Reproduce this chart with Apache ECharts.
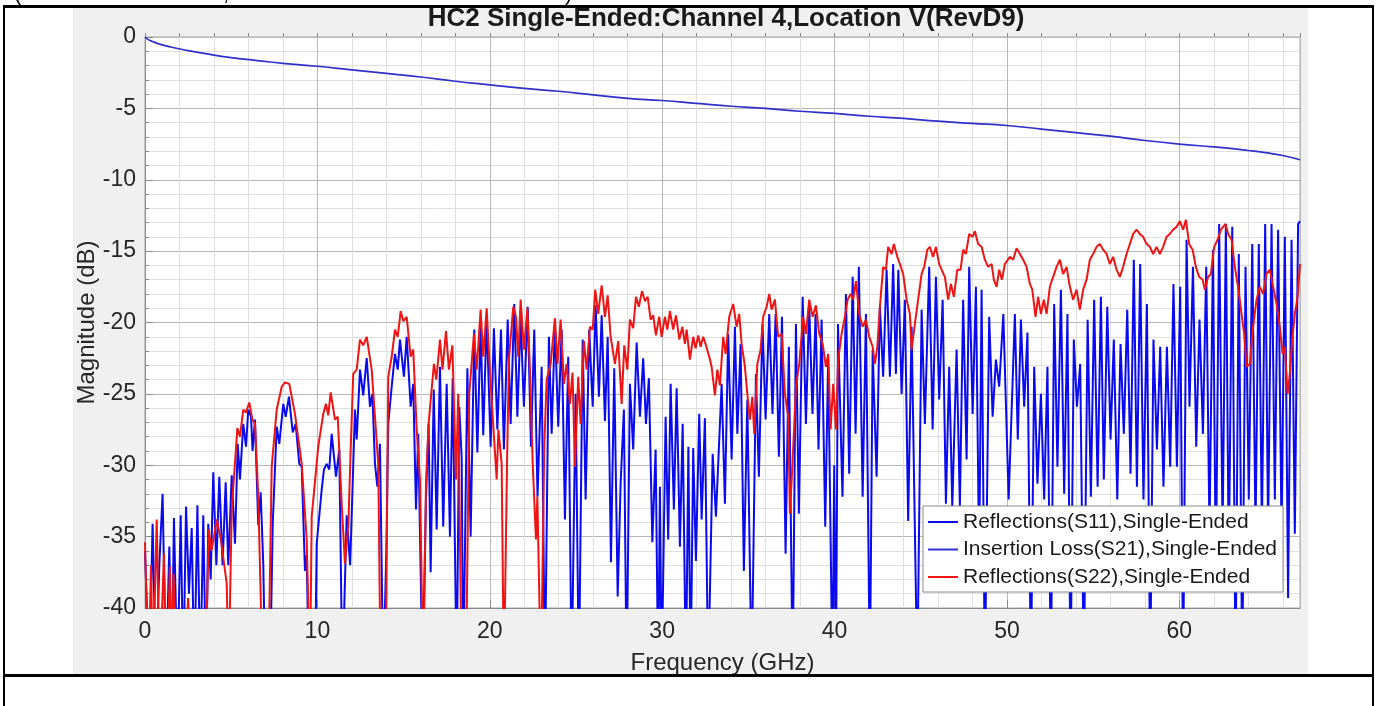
<!DOCTYPE html>
<html>
<head>
<meta charset="utf-8">
<title>HC2 Single-Ended</title>
<script src="https://cdn.jsdelivr.net/npm/echarts@6.0.0/dist/echarts.min.js"></script>
<style>
    html, body { margin: 0; padding: 0; background: #fff; }
    #chart { width: 1377px; height: 706px; }
</style>
</head>
<body>
<div id="chart"></div>
<script>
// 频率 (GHz) / 幅度 (dB) 读自原图
let s11Points = [
    [0, -36], [0.25, -45], [0.44, -34.1], [0.64, -45], [0.83, -37], [1.02, -32.0], [1.22, -45], [1.41, -35.7],
    [1.55, -45], [1.68, -33.7], [1.88, -45], [2.07, -33.5], [2.22, -45], [2.38, -32.9], [2.55, -39], [2.71, -34.4],
    [2.86, -45], [3.04, -32.8], [3.21, -45], [3.38, -33.5], [3.54, -45], [3.67, -34.1], [3.81, -38], [3.96, -30.5],
    [4.14, -37], [4.31, -30.8], [4.5, -37], [4.68, -31.2], [4.83, -37], [5.03, -30.7], [5.22, -35.5], [5.38, -28.5],
    [5.51, -31.0], [5.7, -27.1], [5.86, -28.7], [5.99, -26.1], [6.15, -26.6], [6.24, -29.0], [6.38, -26.8], [6.57, -34.2],
    [6.71, -31.9], [6.86, -36.9], [6.98, -45], [7.25, -45], [7.41, -34.1], [7.64, -27.3], [7.79, -28.5], [8.02, -25.7],
    [8.16, -26.6], [8.35, -25.2], [8.57, -27.7], [8.74, -27.1], [8.95, -29.9], [9.09, -30.1], [9.28, -37.4], [9.38, -36.3],
    [9.51, -45], [9.86, -45], [9.96, -35.5], [10.25, -31.7], [10.38, -30.3], [10.54, -29.9], [10.69, -30.3], [10.83, -27.8],
    [11.08, -30.8], [11.27, -28.9], [11.45, -45], [11.7, -33.5], [11.9, -37], [12.08, -30], [12.18, -26.1], [12.28, -28.2],
    [12.47, -23.3], [12.66, -25.1], [12.86, -22.5], [13.05, -25.9], [13.19, -25.0], [13.34, -29.9], [13.48, -31.5], [13.63, -28.5],
    [13.82, -45], [14.0, -36], [14.11, -27.1], [14.31, -24.5], [14.5, -22.2], [14.66, -23.3], [14.79, -21.2], [15.02, -23.8],
    [15.18, -21.0], [15.41, -25.9], [15.56, -24.3], [15.72, -33.1], [15.85, -27.8], [16.1, -45], [16.3, -32.2], [16.45, -27.1],
    [16.57, -37.5], [16.75, -24.7], [16.92, -34.5], [17.11, -23.1], [17.3, -34.3], [17.5, -24.3], [17.69, -35.0], [17.85, -23.9],
    [18.08, -45], [18.23, -25.9], [18.37, -29.5], [18.46, -45], [18.7, -23.2], [18.89, -35.0], [19.1, -20.5], [19.28, -29.1],
    [19.47, -20.1], [19.62, -27.9], [19.82, -19.7], [20.05, -28.7], [20.24, -20.4], [20.44, -27.5], [20.65, -20.5], [20.82, -28.9],
    [21.04, -19.8], [21.21, -27.1], [21.42, -18.7], [21.6, -26.6], [21.79, -19.7], [21.98, -25.9], [22.2, -18.9], [22.39, -28.7],
    [22.58, -20.5], [22.77, -32.2], [23.01, -23.1], [23.2, -45], [23.43, -21.0], [23.59, -27.8], [23.78, -20.1], [23.97, -27.3],
    [24.17, -20.5], [24.36, -33.8], [24.55, -22.4], [24.75, -45], [24.98, -25.0], [25.17, -45], [25.39, -21.2], [25.56, -32.4],
    [25.77, -20.5], [25.97, -25.9], [26.14, -18.8], [26.33, -25.2], [26.49, -19.5], [26.68, -26.9], [26.84, -21.0], [27.03, -36.8],
    [27.22, -23.2], [27.42, -39.2], [27.59, -31.3], [27.78, -26.1], [27.94, -45], [28.13, -24.3], [28.32, -28.9], [28.52, -21.4],
    [28.71, -26.6], [28.9, -22.5], [29.06, -27.1], [29.23, -23.9], [29.43, -35.4], [29.62, -28.9], [29.77, -45], [29.87, -31.5],
    [29.97, -45], [30.2, -26.6], [30.35, -35.2], [30.49, -24.3], [30.68, -33.1], [30.84, -24.6], [31.03, -35.7], [31.19, -27.1],
    [31.38, -45], [31.52, -28.7], [31.65, -45], [31.8, -28.8], [31.96, -36.7], [32.15, -26.4], [32.29, -33.8], [32.48, -26.7],
    [32.67, -45], [32.93, -29.2], [33.12, -33.6], [33.45, -24.3], [33.64, -32.7], [33.83, -20.8], [34.03, -29.6], [34.22, -20.3],
    [34.36, -27.8], [34.55, -21.5], [34.74, -37.4], [34.94, -25.4], [35.19, -45], [35.44, -23.6], [35.61, -30.8], [35.82, -20.1],
    [36.0, -26.8], [36.21, -19.4], [36.4, -26.4], [36.58, -19.4], [36.77, -29.4], [36.95, -19.6], [37.16, -36.2], [37.35, -21.7],
    [37.57, -45], [37.76, -20.1], [37.93, -33.4], [38.15, -18.2], [38.34, -27.1], [38.53, -18.7], [38.72, -26.4], [38.9, -19.4],
    [39.07, -28.9], [39.25, -19.8], [39.46, -34.3], [39.63, -22.4], [39.88, -45], [39.98, -30], [40.08, -45], [40.2, -20.1],
    [40.46, -32.2], [40.66, -18.0], [40.85, -30.6], [41.05, -16.8], [41.22, -27.8], [41.41, -16.1], [41.63, -32.2], [41.82, -19.4],
    [42.05, -45], [42.21, -21.9], [42.44, -30.8], [42.63, -18.9], [42.82, -23.8], [43.02, -16.3], [43.21, -23.8], [43.4, -15.9],
    [43.56, -23.6], [43.7, -16.3], [43.89, -25.0], [44.08, -18.4], [44.27, -33.9], [44.47, -20.3], [44.8, -45], [45.05, -19.1],
    [45.24, -27.1], [45.49, -16.1], [45.69, -27.5], [45.88, -16.8], [46.07, -25.4], [46.27, -18.4], [46.46, -32.7], [46.65, -23.1],
    [46.83, -32.9], [47.08, -21.9], [47.27, -32.9], [47.46, -18.4], [47.66, -29.6], [47.81, -16.1], [48.01, -26.4], [48.2, -17.5],
    [48.39, -36.9], [48.53, -17.7], [48.72, -45], [48.97, -19.6], [49.17, -26.6], [49.36, -22.6], [49.55, -24.5], [49.79, -19.4],
    [50.1, -32.4], [50.46, -19.4], [50.63, -28.2], [50.81, -19.8], [51.0, -25.9], [51.19, -20.7], [51.39, -45], [51.58, -23.1],
    [51.77, -31.3], [51.97, -25.0], [52.16, -32.4], [52.35, -23.1], [52.55, -45], [52.74, -18.7], [52.93, -30.1], [53.13, -17.7],
    [53.32, -32.0], [53.51, -19.4], [53.69, -45], [53.88, -21.2], [54.06, -25.9], [54.25, -22.9], [54.46, -45], [54.68, -19.8],
    [54.87, -32.2], [55.06, -18.4], [55.26, -31.5], [55.45, -18.2], [55.62, -31.0], [55.82, -18.9], [56.01, -28.2], [56.2, -21.2],
    [56.4, -32.4], [56.59, -21.5], [56.78, -27.8], [56.98, -19.1], [57.17, -30.6], [57.36, -15.6], [57.54, -31.5], [57.73, -15.9],
    [57.92, -32.4], [58.12, -18.7], [58.31, -45], [58.5, -21.2], [58.7, -28.9], [58.89, -21.7], [59.08, -31.5], [59.28, -21.7],
    [59.47, -30.1], [59.66, -17.3], [59.86, -30.1], [60.05, -17.5], [60.22, -45], [60.42, -14.2], [60.59, -25.9], [60.79, -16.1],
    [60.98, -28.7], [61.17, -19.8], [61.37, -27.8], [61.56, -16.1], [61.75, -34.8], [61.95, -14.9], [62.12, -38], [62.31, -13.1],
    [62.51, -34.8], [62.7, -13.1], [62.87, -37.1], [63.07, -13.3], [63.26, -45], [63.45, -15.2], [63.65, -45], [63.84, -16.1],
    [64.03, -32.4], [64.23, -14.5], [64.42, -34.8], [64.61, -14.5], [64.79, -34.8], [64.98, -13.1], [65.15, -34.8], [65.35, -13.1],
    [65.54, -32.4], [65.73, -13.5], [65.93, -34.8], [66.12, -14.0], [66.31, -39.3], [66.51, -14.2], [66.7, -34.8], [66.89, -13.1],
    [67.0, -12.9]
];

let s21Points = [
    [0, 0], [0.15, -0.15], [0.4, -0.3], [0.8, -0.48], [1.5, -0.7], [2.5, -0.95], [3.5, -1.17], [5, -1.45],
    [6.5, -1.65], [8, -1.85], [10, -2.05], [12, -2.3], [14, -2.55], [16, -2.8], [18, -3.1], [20, -3.35],
    [22, -3.6], [24, -3.8], [26, -4.05], [28, -4.3], [30, -4.45], [32, -4.65], [34, -4.85], [36, -5.0],
    [38, -5.2], [40, -5.35], [42, -5.55], [44, -5.7], [46, -5.9], [48, -6.05], [50, -6.2], [52, -6.45],
    [54, -6.7], [56, -6.95], [58, -7.25], [60, -7.5], [62, -7.7], [64, -7.95], [65, -8.1], [66, -8.3],
    [67, -8.6]
];

let s22Points = [
    [0, -35.4], [0.2, -45], [0.35, -37], [0.45, -45], [0.68, -33.8], [0.85, -45], [1.1, -36.2], [1.25, -45],
    [1.45, -37.1], [1.55, -45], [1.65, -37.6], [1.9, -45], [2.3, -45], [2.5, -39.3], [2.7, -45], [3.5, -45],
    [3.7, -34.5], [3.85, -36], [4.0, -35], [4.16, -33.8], [4.4, -35.2], [4.74, -38.3], [4.85, -45], [5.03, -33.1],
    [5.36, -27.4], [5.51, -28.0], [5.7, -26.1], [5.86, -26.3], [6.05, -25.6], [6.23, -26.8], [6.38, -27.1], [6.57, -32.2],
    [6.83, -45], [7.15, -45], [7.35, -30.1], [7.64, -26.1], [7.93, -24.5], [8.12, -24.2], [8.37, -24.3], [8.7, -26.4],
    [9.09, -29.9], [9.38, -35.2], [9.57, -45], [9.67, -33.6], [10.05, -28.7], [10.34, -26.4], [10.5, -25.7], [10.63, -26.5],
    [10.77, -24.9], [11.02, -26.8], [11.18, -26.6], [11.41, -32.7], [11.6, -36.9], [11.8, -34.1], [11.93, -28.9], [12.08, -23.6],
    [12.28, -23.3], [12.47, -21.2], [12.66, -21.6], [12.86, -21.0], [13.15, -23.3], [13.34, -26.6], [13.53, -29.9], [13.67, -45],
    [13.96, -45], [14.11, -23.8], [14.31, -22.4], [14.5, -20.5], [14.66, -21.0], [14.83, -19.2], [14.98, -19.9], [15.18, -19.6],
    [15.41, -22.4], [15.56, -21.9], [15.76, -27.5], [15.95, -31.0], [16.14, -45], [16.3, -31.3], [16.45, -27.1], [16.76, -22.9],
    [16.9, -24.0], [17.11, -21.2], [17.26, -23.3], [17.46, -20.6], [17.63, -23.3], [17.83, -21.6], [18.04, -31.0], [18.17, -25.0],
    [18.37, -45], [18.62, -45], [18.81, -25.0], [19.08, -20.8], [19.24, -23.3], [19.47, -19.1], [19.62, -22.4], [19.82, -19.0],
    [20.05, -24.3], [20.4, -31.0], [20.5, -27.5], [20.69, -29.9], [20.82, -45], [21.0, -30], [21.11, -22.6], [21.36, -18.9],
    [21.52, -19.6], [21.65, -22.4], [21.79, -18.4], [21.98, -21.9], [22.18, -19.0], [22.33, -23.3], [22.49, -29.9], [22.68, -35.2],
    [22.76, -32.2], [22.97, -45], [23.16, -28.7], [23.3, -24.0], [23.53, -22.9], [23.78, -19.7], [23.93, -22.9], [24.11, -19.8],
    [24.3, -24.3], [24.46, -22.9], [24.65, -25.7], [24.8, -23.5], [24.94, -30.1], [25.13, -23.8], [25.27, -27.1], [25.46, -21.3],
    [25.62, -23.3], [25.81, -20.3], [25.97, -20.5], [26.12, -17.7], [26.29, -19.4], [26.49, -17.4], [26.68, -19.6], [26.84, -18.1],
    [27.01, -21.0], [27.26, -22.9], [27.45, -21.3], [27.65, -25.7], [27.8, -21.6], [27.98, -23.3], [28.13, -19.8], [28.32, -20.4],
    [28.48, -18.2], [28.65, -18.9], [28.83, -17.8], [29.0, -18.5], [29.16, -18.2], [29.33, -19.8], [29.48, -19.5], [29.64, -20.9],
    [29.83, -19.6], [29.97, -21.0], [30.16, -19.6], [30.3, -20.5], [30.45, -19.2], [30.64, -20.5], [30.8, -19.5], [31.0, -21.2],
    [31.17, -20.3], [31.32, -21.5], [31.42, -20.5], [31.61, -22.6], [31.8, -21.0], [31.94, -21.8], [32.09, -20.9], [32.23, -21.7],
    [32.38, -21.0], [32.54, -21.6], [32.73, -22.4], [32.87, -23.1], [33.06, -25.1], [33.2, -23.3], [33.35, -24.4], [33.54, -21.0],
    [33.68, -22.2], [33.89, -19.6], [34.12, -18.7], [34.32, -20.3], [34.47, -19.4], [34.61, -21.5], [34.8, -23.1], [34.94, -25.0],
    [35.09, -26.8], [35.23, -25.2], [35.34, -27.8], [35.52, -22.9], [35.71, -21.9], [35.86, -19.6], [36.06, -18.9], [36.21, -18.0],
    [36.35, -19.1], [36.54, -18.4], [36.73, -21.0], [36.93, -20.8], [37.12, -25.0], [37.31, -26.6], [37.41, -33.4], [37.56, -29.9],
    [37.76, -24.5], [37.95, -22.9], [38.18, -19.6], [38.34, -20.8], [38.53, -18.4], [38.73, -19.6], [38.92, -18.8], [39.11, -20.8],
    [39.31, -21.5], [39.5, -23.1], [39.63, -22.2], [39.77, -27.5], [39.92, -24.3], [40.08, -27.5], [40.21, -22.6], [40.41, -20.8],
    [40.6, -19.6], [40.76, -18.4], [40.93, -18.0], [41.08, -18.4], [41.24, -17.1], [41.43, -19.4], [41.63, -20.3], [41.82, -19.8],
    [42.01, -21.0], [42.21, -21.7], [42.34, -22.9], [42.48, -21.7], [42.63, -18.9], [42.82, -16.1], [42.98, -16.3], [43.11, -14.7],
    [43.31, -15.2], [43.44, -14.5], [43.64, -15.4], [43.79, -15.9], [43.98, -16.6], [44.18, -18.4], [44.37, -19.4], [44.47, -21.9],
    [44.66, -20.1], [44.85, -18.4], [45.05, -16.6], [45.2, -16.1], [45.38, -14.9], [45.53, -14.7], [45.72, -15.4], [45.88, -14.7],
    [46.07, -15.9], [46.21, -16.3], [46.4, -16.8], [46.59, -18.4], [46.75, -17.3], [46.92, -18.2], [47.12, -16.3], [47.31, -16.3],
    [47.46, -14.9], [47.62, -15.2], [47.81, -13.8], [48.01, -14.0], [48.14, -13.6], [48.33, -14.5], [48.53, -14.7], [48.72, -15.6],
    [48.91, -16.1], [49.11, -15.9], [49.24, -17.0], [49.4, -17.5], [49.55, -16.3], [49.71, -17.0], [49.88, -15.9], [50.17, -15.4],
    [50.36, -15.6], [50.56, -14.8], [50.75, -15.2], [50.94, -15.6], [51.14, -16.1], [51.33, -17.3], [51.47, -17.7], [51.66, -19.6],
    [51.81, -18.2], [51.97, -19.4], [52.14, -18.4], [52.3, -19.4], [52.49, -17.5], [52.68, -16.8], [52.88, -16.1], [53.07, -15.6],
    [53.26, -16.6], [53.46, -16.1], [53.65, -17.5], [53.84, -18.4], [54.04, -17.7], [54.23, -19.1], [54.42, -17.7], [54.62, -17.0],
    [54.81, -15.6], [55.0, -15.2], [55.2, -14.7], [55.39, -14.5], [55.58, -14.9], [55.78, -15.2], [55.97, -15.9], [56.16, -15.4],
    [56.36, -16.3], [56.55, -16.8], [56.74, -16.1], [56.94, -15.2], [57.13, -14.5], [57.32, -13.8], [57.52, -13.5], [57.71, -13.8],
    [57.9, -14.0], [58.1, -14.5], [58.29, -14.7], [58.48, -15.2], [58.68, -14.7], [58.87, -15.2], [59.06, -14.7], [59.26, -14.0],
    [59.45, -13.8], [59.64, -13.5], [59.84, -13.3], [60.03, -12.9], [60.22, -13.5], [60.38, -12.8], [60.57, -14.5], [60.77, -14.9],
    [60.96, -16.1], [61.15, -16.8], [61.35, -17.0], [61.48, -17.7], [61.67, -16.8], [61.83, -16.6], [62.02, -14.7], [62.22, -14.2],
    [62.41, -13.5], [62.54, -13.3], [62.68, -13.1], [62.83, -13.8], [63.03, -14.2], [63.22, -16.1], [63.41, -17.5], [63.61, -19.4],
    [63.76, -20.8], [63.9, -23.1], [64.09, -22.9], [64.28, -20.3], [64.48, -18.4], [64.67, -17.5], [64.86, -18.0], [65.06, -16.6],
    [65.25, -16.3], [65.44, -17.5], [65.64, -18.7], [65.83, -20.3], [65.99, -22.2], [66.12, -21.7], [66.28, -25.0], [66.41, -23.6],
    [66.55, -21.2], [66.7, -19.4], [66.86, -18.2], [67.0, -15.9]
];

let seriesNames = [
    'Reflections(S11),Single-Ended',
    'Insertion Loss(S21),Single-Ended',
    'Reflections(S22),Single-Ended'
];

let fontFamily = '"Liberation Sans", Arial, sans-serif';
let myChart = echarts.init(document.getElementById('chart'));

let option = {
    animation: false,
    backgroundColor: '#fff',
    title: {
        text: 'HC2 Single-Ended:Channel 4,Location V(RevD9)',
        left: 726,
        top: 6,
        textAlign: 'center',
        padding: 0,
        textStyle: {fontFamily: fontFamily, fontSize: 26, fontWeight: 'bold', color: '#1a1a1a'}
    },
    legend: {
        orient: 'vertical',
        left: 923,
        top: 506,
        padding: [5, 6, 4, 5],
        itemWidth: 30,
        itemHeight: 2,
        itemGap: 5.5,
        backgroundColor: '#fff',
        borderColor: '#8c8c8c',
        borderWidth: 1,
        textStyle: {fontFamily: fontFamily, fontSize: 21, lineHeight: 22, color: '#1a1a1a'},
        data: seriesNames.map(n => ({name: n, icon: 'rect'}))
    },
    grid: {
        left: 145, top: 37, right: 77, bottom: 98,
        outerBoundsMode: 'none',
        containLabel: false,
        show: true,
        backgroundColor: '#fff',
        borderColor: '#a6a6a6',
        borderWidth: 1
    },
    xAxis: [
        {
            // 次网格 每2GHz
            type: 'value', min: 0, max: 67, interval: 2,
            position: 'bottom',
            axisLine: {show: false},
            axisLabel: {show: false},
            axisTick: {inside: true, length: 4, lineStyle: {color: '#8a8a8a'}},
            splitLine: {lineStyle: {color: '#e0e0e0', width: 1}}
        },
        {
            type: 'value', min: 0, max: 67, interval: 10,
            position: 'bottom',
            name: 'Frequency (GHz)',
            nameLocation: 'middle',
            nameGap: 43,
            nameTextStyle: {fontFamily: fontFamily, fontSize: 24, color: '#262626'},
            axisLine: {lineStyle: {color: '#8a8a8a', width: 1}},
            axisTick: {inside: true, length: 8, lineStyle: {color: '#8a8a8a'}},
            axisLabel: {fontFamily: fontFamily, fontSize: 23, color: '#262626', margin: 12, showMaxLabel: false},
            splitLine: {lineStyle: {color: '#b8b8b8', width: 1}}
        }
    ],
    yAxis: {
        type: 'value', min: -40, max: 0, interval: 5,
        name: 'Magnitude (dB)',
        nameLocation: 'middle',
        nameGap: 46,
        nameMoveOverlap: false,
        nameRotate: 90,
        nameTextStyle: {fontFamily: fontFamily, fontSize: 24, color: '#262626'},
        axisLine: {show: true, lineStyle: {color: '#8a8a8a', width: 1}},
        axisTick: {show: true, inside: true, length: 8, lineStyle: {color: '#8a8a8a'}},
        minorTick: {show: true, splitNumber: 5, length: 4, lineStyle: {color: '#8a8a8a'}},
        axisLabel: {fontFamily: fontFamily, fontSize: 23, color: '#262626', margin: 9},
        splitLine: {lineStyle: {color: '#b8b8b8', width: 1}},
        minorSplitLine: {show: true, lineStyle: {color: '#e0e0e0', width: 1}}
    },
    graphic: [
        // 灰色底板
        {type: 'rect', z: -10, silent: true, shape: {x: 73, y: 8, width: 1235, height: 667}, style: {fill: '#f0f0f0'}},
        // 表格边框
        {type: 'line', z: 100, shape: {x1: 3, y1: 6.5, x2: 1374, y2: 6.5}, style: {stroke: '#000', lineWidth: 3}},
        {type: 'line', z: 100, shape: {x1: 4, y1: 5, x2: 4, y2: 706}, style: {stroke: '#000', lineWidth: 2}},
        {type: 'line', z: 100, shape: {x1: 1373, y1: 5, x2: 1373, y2: 706}, style: {stroke: '#000', lineWidth: 2}},
        {type: 'line', z: 100, shape: {x1: 3, y1: 675.5, x2: 1374, y2: 675.5}, style: {stroke: '#000', lineWidth: 3}},
        // 上一行被截断的文字
        {type: 'text', z: 100, style: {text: '(', x: 14, y: 5, textVerticalAlign: 'bottom', font: '22px ' + fontFamily, fill: '#000'}},
        {type: 'text', z: 100, style: {text: ',', x: 223, y: 5, textVerticalAlign: 'bottom', font: '22px ' + fontFamily, fill: '#000'}},
        {type: 'text', z: 100, style: {text: ')', x: 565, y: 5, textVerticalAlign: 'bottom', font: '22px ' + fontFamily, fill: '#000'}}
    ],
    series: [
        {
            name: seriesNames[0],
            type: 'line',
            xAxisIndex: 1,
            data: s11Points,
            showSymbol: false,
            color: '#0a0af0',
            lineStyle: {width: 2, color: '#0a0af0'}
        },
        {
            name: seriesNames[1],
            type: 'line',
            xAxisIndex: 1,
            data: s21Points,
            showSymbol: false,
            smooth: true,
            color: '#3030cc',
            lineStyle: {width: 1.7, color: '#3030cc'}
        },
        {
            name: seriesNames[2],
            type: 'line',
            xAxisIndex: 1,
            data: s22Points,
            showSymbol: false,
            color: '#f01414',
            lineStyle: {width: 2, color: '#f01414'}
        }
    ]
};

myChart.setOption(option);
</script>
</body>
</html>
